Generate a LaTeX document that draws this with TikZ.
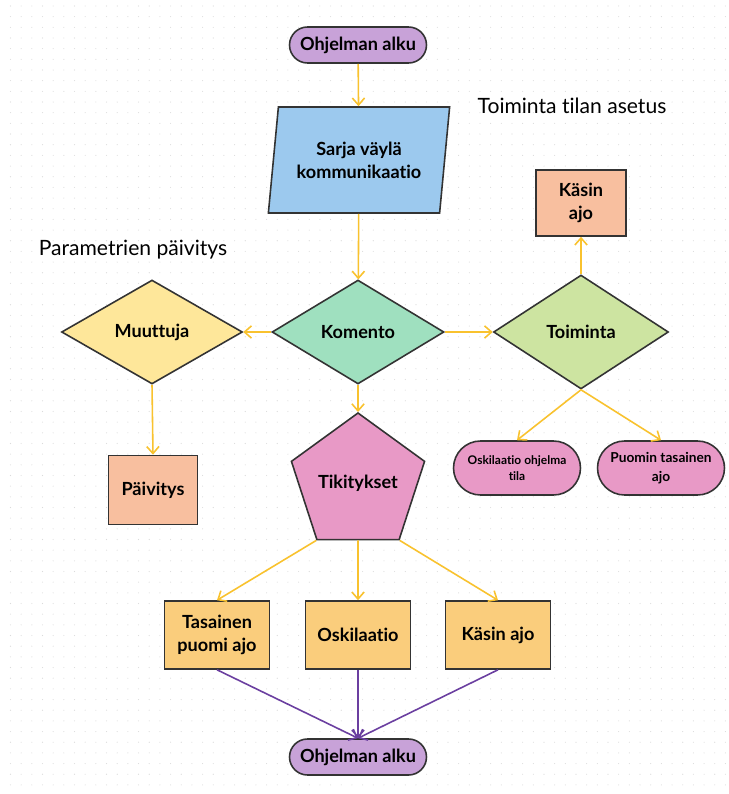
\documentclass[tikz,border=0pt]{standalone}
\usepackage{fontspec}
\setmainfont{Lato}[Ligatures={NoCommon,NoRequired,NoContextual}]
\usetikzlibrary{shapes.geometric,shapes.misc,arrows.meta}
\definecolor{lavender}{HTML}{C8A2D8}
\definecolor{skyblue}{HTML}{9CC9EE}
\definecolor{mint}{HTML}{9FE0BF}
\definecolor{butter}{HTML}{FEE79A}
\definecolor{leaf}{HTML}{CDE4A1}
\definecolor{salmon}{HTML}{F8BF9F}
\definecolor{rose}{HTML}{E899C6}
\definecolor{apricot}{HTML}{FACD7C}
\definecolor{gold}{HTML}{F9C22E}
\definecolor{plum}{HTML}{6B3FA0}
\definecolor{edge}{HTML}{333333}
\tikzset{
  base/.style={draw=edge, line width=0.9pt, align=center, inner sep=0pt,
    font=\bfseries\fontsize{10.3}{13}\selectfont},
  term/.style={base, rounded rectangle, fill=lavender, minimum width=2.74cm, minimum height=0.72cm},
  iobox/.style={base, trapezium, trapezium left angle=78, trapezium right angle=102,
    trapezium stretches=true, fill=skyblue, minimum width=3.64cm, minimum height=2.12cm},
  choice/.style={base, diamond},
  stepbox/.style={base, rectangle},
  pill/.style={base, rounded rectangle, fill=rose, minimum width=2.54cm, minimum height=1.08cm},
  flow/.style={draw=gold, line width=0.9pt, -{Straight Barb[length=4pt,width=7pt]}},
  back/.style={draw=plum, line width=0.9pt, -{Straight Barb[length=4pt,width=7pt]}},
  heading/.style={font=\fontsize{12}{14}\selectfont}
}
\begin{document}
\begin{tikzpicture}[x=0.02cm,y=-0.02cm]
        \useasboundingbox (0,0) rectangle (728,794);
        \fill[white] (0,0) rectangle (728,794);
        \foreach \i in {0,...,67}
          \foreach \j in {0,...,74}
            \fill[black!14] (10.5+10.67*\i,6+10.67*\j) circle (0.55);
        \node[heading] (modeLbl) at (572,106) {Toiminta tilan asetus};
        \node[heading] (paramLbl) at (133,250) {Parametrien päivitys};
        \node[term] (start) at (358,45) {Ohjelman alku};
        \node[iobox] (serial) at (359,160) {Sarja väylä\\kommunikaatio};
        \node[choice, fill=mint, minimum width=3.44cm, minimum height=2.08cm] (cmd) at (358,332) {Komento};
        \node[choice, fill=butter, minimum width=3.62cm, minimum height=2.08cm] (var) at (152,332) {Muuttuja};
        \node[choice, fill=leaf, minimum width=3.5cm, minimum height=2.28cm] (act) at (581,332) {Toiminta};
        \node[stepbox, fill=salmon, minimum width=1.78cm, minimum height=1.38cm] (upd) at (153,490) {Päivitys};
        \node[stepbox, fill=salmon, minimum width=1.8cm, minimum height=1.32cm] (manual) at (581,203) {Käsin\\ajo};
        \node[pill, font=\bfseries\fontsize{6.8}{9.5}\selectfont] (oscmode) at (517,468) {Oskilaatio ohjelma\\tila};
        \node[pill, font=\bfseries\fontsize{7.8}{11}\selectfont] (even) at (661,468) {Puomin tasainen\\ajo};
        \node[base, regular polygon, regular polygon sides=5, fill=rose, minimum size=2.8cm] (tick) at (358,483) {Tikitykset};
        \node[stepbox, fill=apricot, minimum width=2.1cm, minimum height=1.36cm] (flat) at (217,635) {Tasainen\\puomi ajo};
        \node[stepbox, fill=apricot, minimum width=2.1cm, minimum height=1.36cm] (osc) at (358,635) {Oskilaatio};
        \node[stepbox, fill=apricot, minimum width=2.1cm, minimum height=1.36cm] (hand) at (498,635) {Käsin ajo};
        \node[term] (stop) at (358,757) {Ohjelman alku};
        \draw[flow] (start) -- (serial);
        \draw[flow] (serial) -- (cmd);
        \draw[flow] (cmd.west) -- (var.east);
        \draw[flow] (cmd.east) -- (act.west);
        \draw[flow] (cmd.south) -- (tick.corner 1);
        \draw[flow] (var.south) -- (upd.north);
        \draw[flow] (act.north) -- (manual.south);
        \draw[flow] (act.south) -- (oscmode.north);
        \draw[flow] (act.south) -- (even.north);
        \draw[flow] (tick.corner 3) -- (flat.north);
        \draw[flow] (tick.south) -- (osc.north);
        \draw[flow] (tick.corner 4) -- (hand.north);
        \draw[back] (flat.south) -- (stop.north);
        \draw[back] (osc.south) -- (stop.north);
        \draw[back] (hand.south) -- (stop.north);
    \end{tikzpicture}
\end{document}
